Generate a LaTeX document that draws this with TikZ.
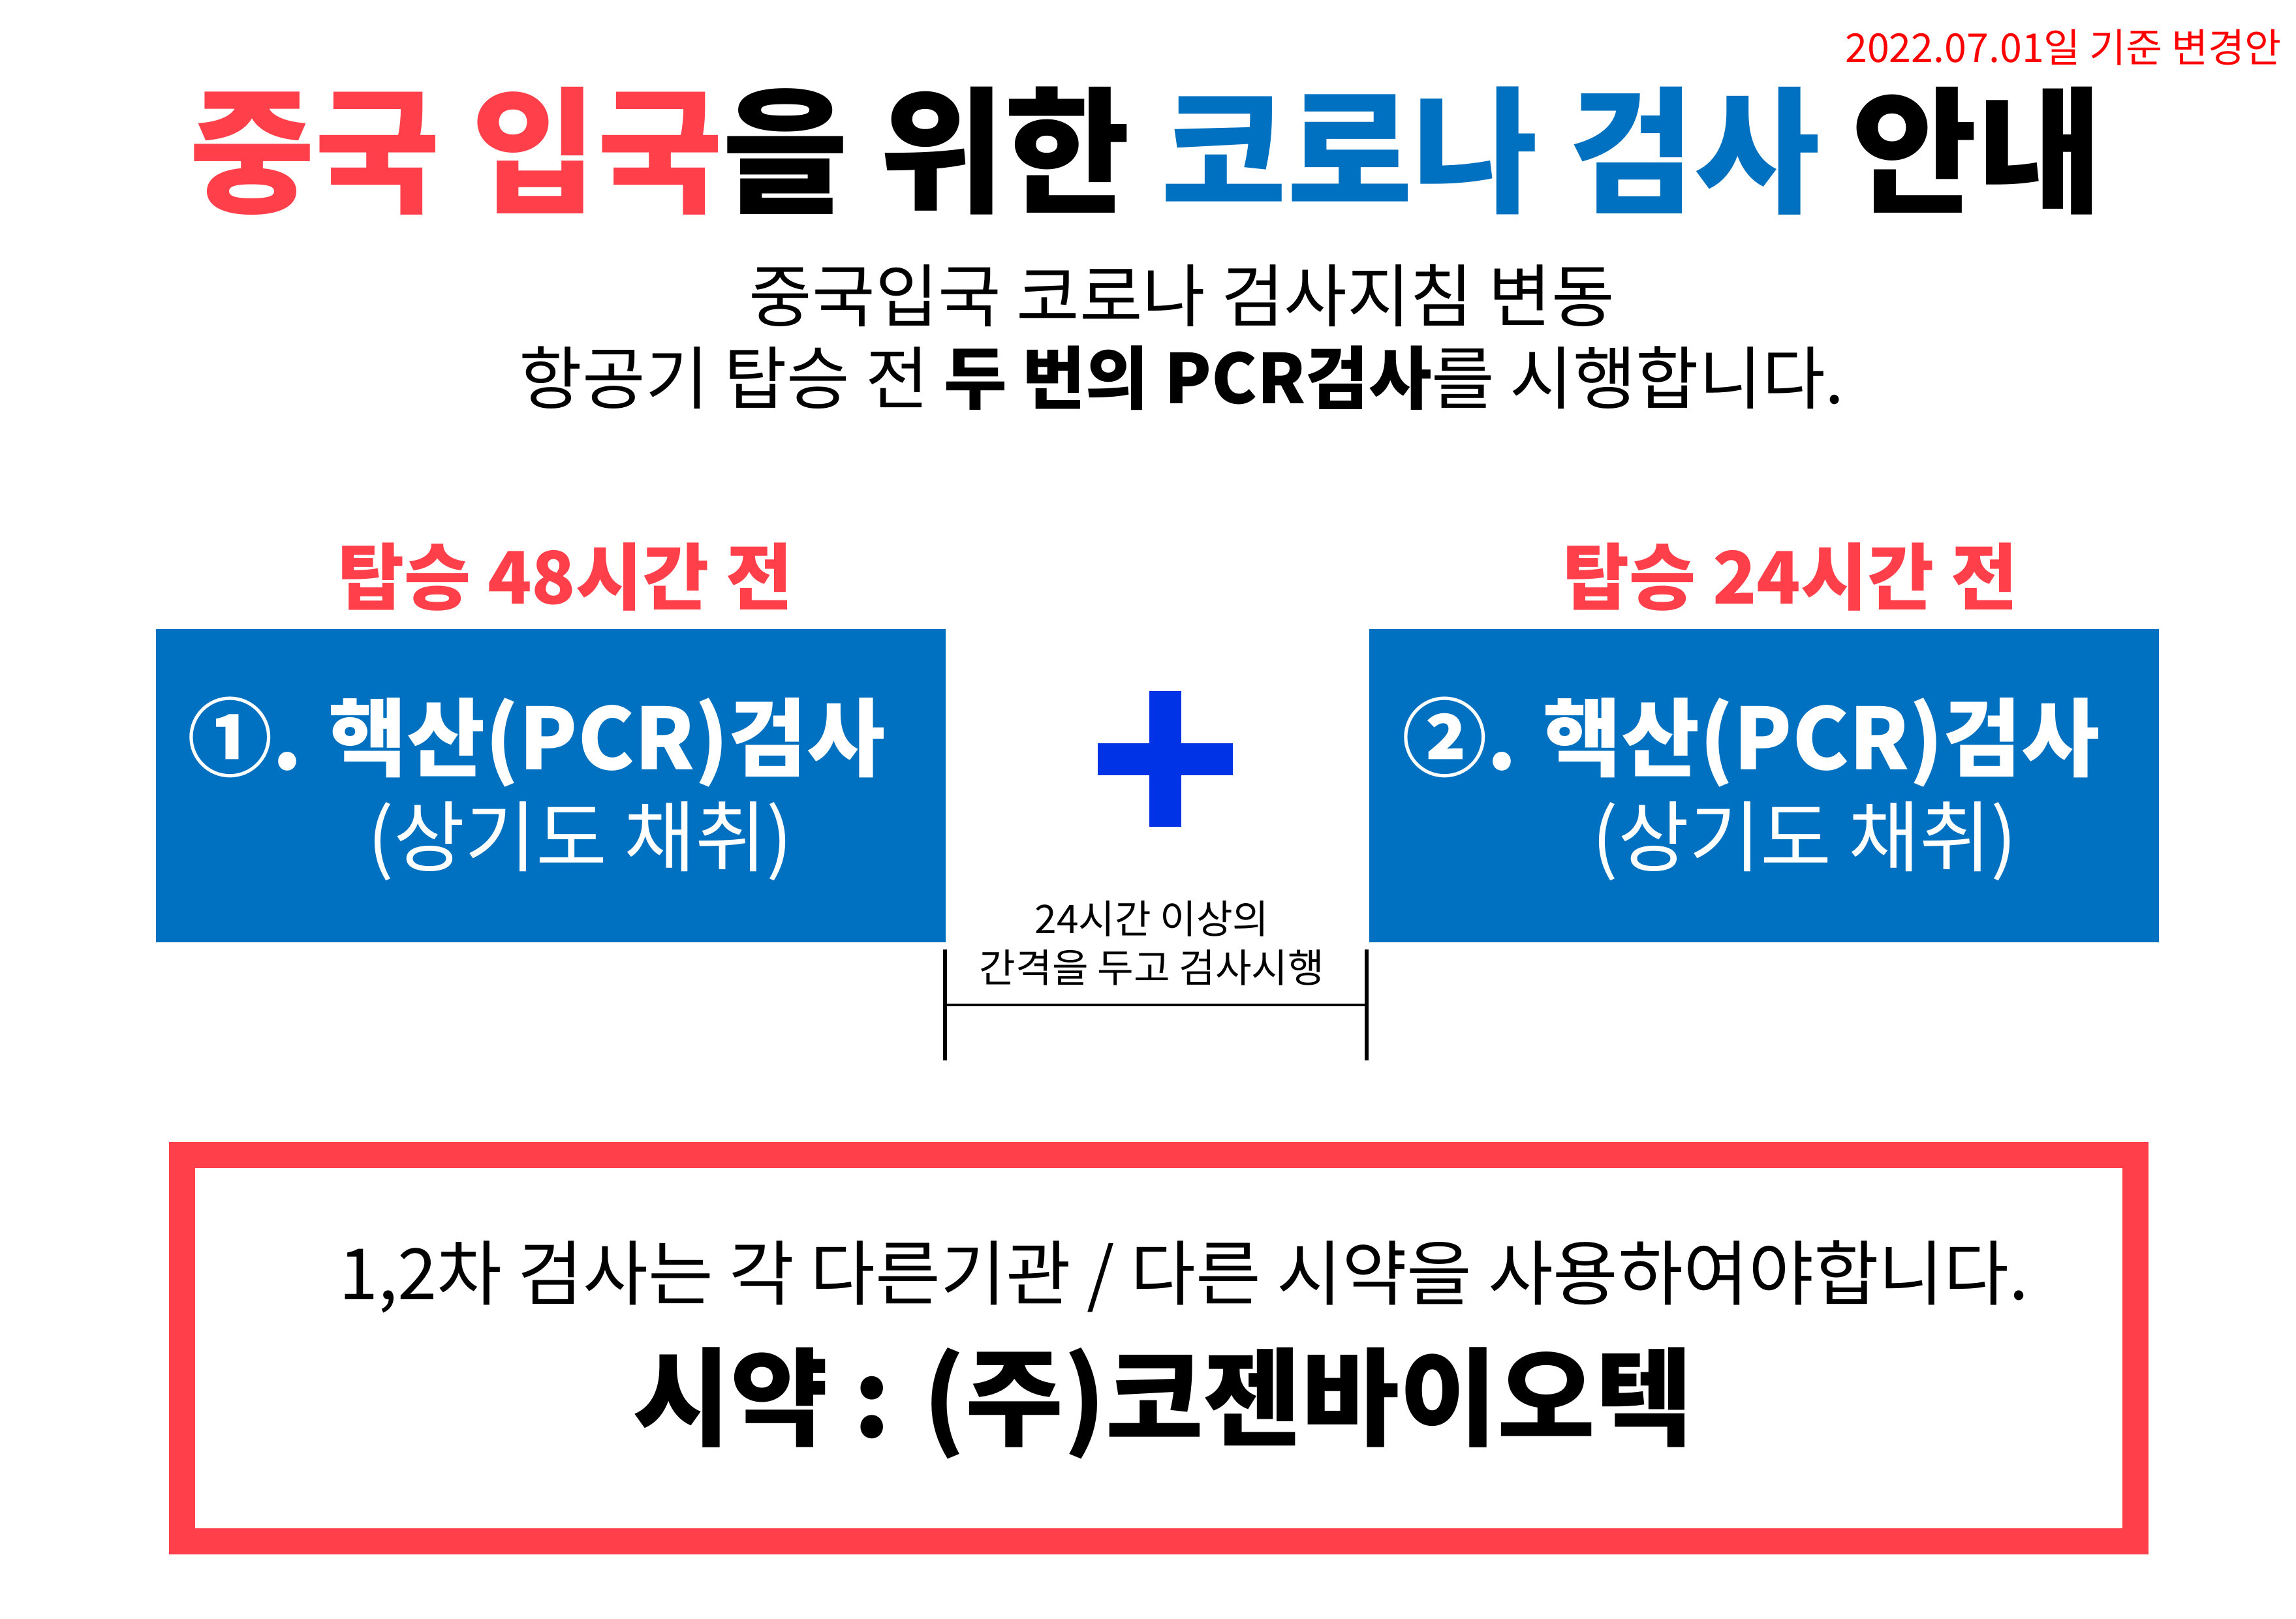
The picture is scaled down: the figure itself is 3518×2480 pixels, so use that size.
\documentclass[tikz,border=0pt]{standalone}
\usepackage{fontspec}
\setmainfont{Noto Sans CJK KR}
\newfontfamily\krblack{Noto Sans CJK KR}[UprightFont=* Black]
\definecolor{tred}{HTML}{FF404A}
\definecolor{tblue}{HTML}{0070C0}
\definecolor{pblue}{HTML}{0033E6}
\definecolor{dred}{HTML}{FF0000}
\tikzset{
  txt/.style={inner sep=0pt, align=center},
  bluebox/.style={fill=tblue, draw=none, inner sep=0pt, minimum width=242pt, minimum height=96pt},
  boxtxt/.style={txt, text=white},
  dimline/.style={line width=1.15pt, draw=black},
}
\begin{document}
\begin{tikzpicture}[x=0.2pt,y=-0.2pt]
\useasboundingbox (0,0) rectangle (3518,2480);
\fill[white] (0,0) rectangle (3518,2480);
% date
\node[txt, anchor=east, text=dred, font=\fontsize{12.2pt}{14pt}\selectfont] (date) at (3497,73) {2022.07.01일 기준 변경안};
% title
\node[txt, font=\fontsize{41.8pt}{48pt}\selectfont\krblack] (title) at (1756,231)
  {\textcolor{tred}{중국 입국}을 위한 \textcolor{tblue}{코로나 검사} 안내};
% subtitle
\node[txt, font=\fontsize{21pt}{25.2pt}\selectfont] (sub) at (1811,517)
  {중국입국 코로나 검사지침 변동\\항공기 탑승 전 {\bfseries 두 번의 PCR검사}를 시행합니다.};
% labels
\node[txt, text=tred, font=\fontsize{22.2pt}{26pt}\selectfont\bfseries] (l1) at (866,884) {탑승 48시간 전};
\node[txt, text=tred, font=\fontsize{22.2pt}{26pt}\selectfont\bfseries] (l2) at (2743,884) {탑승 24시간 전};
% boxes
\node[bluebox] (b1) at (844,1204) {};
\node[bluebox] (b2) at (2703,1204) {};
\node[boxtxt, font=\fontsize{26.1pt}{30pt}\selectfont\bfseries] (b1a) at (822,1137) {①. 핵산(PCR)검사};
\node[boxtxt, font=\fontsize{23.7pt}{28pt}\selectfont] (b1b) at (889,1289) {(상기도 채취)};
\node[boxtxt, font=\fontsize{26.1pt}{30pt}\selectfont\bfseries] (b2a) at (2683,1137) {②. 핵산(PCR)검사};
\node[boxtxt, font=\fontsize{23.7pt}{28pt}\selectfont] (b2b) at (2765,1289) {(상기도 채취)};
% plus
\fill[pblue] (1761,1059) rectangle (1810,1267);
\fill[pblue] (1682,1139) rectangle (1889,1188);
% interval text
\node[txt, font=\fontsize{12.1pt}{15pt}\selectfont] (gap) at (1765,1445) {24시간 이상의\\간격을 두고 검사시행};
% dimension lines
\coordinate (d1t) at (1448,1455);
\coordinate (d1b) at (1448,1625);
\coordinate (d2t) at (2094,1455);
\coordinate (d2b) at (2094,1625);
\coordinate (h1) at (1448,1540);
\coordinate (h2) at (2094,1540);
\draw[dimline] (d1t) -- (d1b);
\draw[dimline] (d2t) -- (d2b);
\draw[line width=0.7pt] (h1) -- (h2);
% red frame
\node[draw=tred, line width=8pt, inner sep=0pt, minimum width=598.6pt, minimum height=118.4pt] (frame) at (1775.5,2066) {};
\node[txt, font=\fontsize{21.7pt}{24pt}\selectfont] (note) at (1814,1956) {1,2차 검사는 각 다른기관 / 다른 시약을 사용하여야합니다.};
\node[txt, font=\fontsize{32.6pt}{36pt}\selectfont\bfseries] (reag) at (1782,2150) {시약 : (주)코젠바이오텍};
\end{tikzpicture}
\end{document}
